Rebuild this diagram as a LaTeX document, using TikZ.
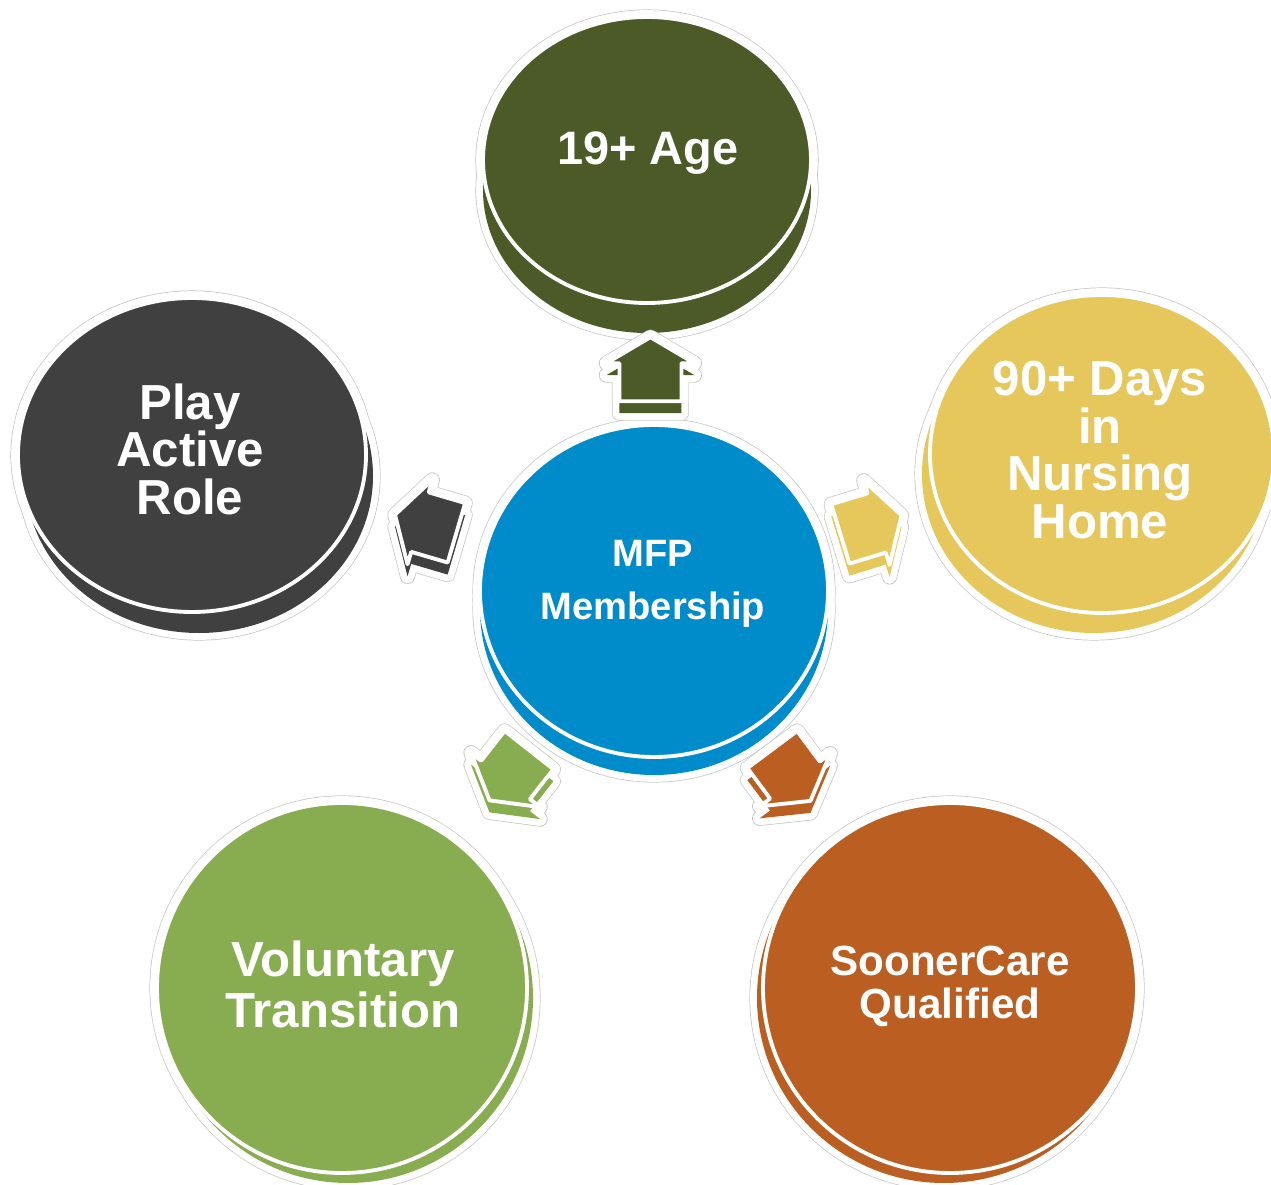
\documentclass[tikz,border=0pt]{standalone}
\usepackage{fontspec}
\setmainfont{Liberation Sans}
\usetikzlibrary{calc}

\definecolor{ageGreen}{RGB}{76,90,40}
\definecolor{roleGray}{RGB}{64,64,64}
\definecolor{mfpBlue}{RGB}{0,139,202}
\definecolor{daysGold}{RGB}{229,199,92}
\definecolor{volGreen}{RGB}{136,173,80}
\definecolor{soonOrange}{RGB}{186,94,33}
\definecolor{haloGray}{RGB}{196,196,196}

% block arrow outline, pointing along +x
\newcommand{\arrowface}{(34,0) -- (8,44) -- (8,31) -- (-30,31) -- (-30,-31) -- (8,-31) -- (8,-44) -- cycle}

% disc with a lower layer: centre, x radius, y radius, shift of lower layer, colour
\newcommand{\tierdisc}[5]{%
  \draw[halo] (#1) ellipse[x radius=#2, y radius=#3];
  \draw[halo] ($(#1)+(#4)$) ellipse[x radius=#2, y radius=#3];
  \draw[haloin] (#1) ellipse[x radius=#2, y radius=#3];
  \draw[haloin] ($(#1)+(#4)$) ellipse[x radius=#2, y radius=#3];
  \fill[#5] ($(#1)+(#4)$) ellipse[x radius=#2, y radius=#3];
  \filldraw[face, fill=#5] (#1) ellipse[x radius=#2, y radius=#3];
}

% block arrow: position, angle, colour
\newcommand{\blockarrow}[3]{%
  \begin{scope}[shift={(#1)}]
    \draw[halo, rotate=#2] \arrowface;
    \draw[halo, shift={(0,12)}, rotate=#2] \arrowface;
    \draw[haloin, rotate=#2] \arrowface;
    \draw[haloin, shift={(0,12)}, rotate=#2] \arrowface;
    \fill[#3, shift={(0,12)}, rotate=#2] \arrowface;
    \filldraw[face, fill=#3, rotate=#2] \arrowface;
  \end{scope}
}

\begin{document}
\begin{tikzpicture}[x=0.02cm, y=-0.02cm,
    halo/.style={draw=haloGray, line width=8.6pt, line join=round},
    haloin/.style={draw=white, fill=white, line width=7.8pt, line join=round},
    face/.style={draw=white, line width=2.2pt, line join=round},
    lbl/.style={text=white, align=center, inner sep=0pt}
  ]
  \useasboundingbox (0,0) rectangle (1271,1185);

  % disc centres
  \coordinate (c-mfp)  at (654,591);
  \coordinate (c-age)  at (647,160);
  \coordinate (c-role) at (192,455);
  \coordinate (c-days) at (1102,454);
  \coordinate (c-vol)  at (342,988);
  \coordinate (c-soon) at (950,988);

  \tierdisc{c-age}{164}{143}{0,30}{ageGreen}
  \tierdisc{c-role}{174}{157}{7,21}{roleGray}
  \tierdisc{c-days}{172}{159}{-8,20}{daysGold}
  \tierdisc{c-vol}{185}{185}{6,10}{volGreen}
  \tierdisc{c-soon}{187}{185}{-6,10}{soonOrange}
  \tierdisc{c-mfp}{174}{166}{0,18}{mfpBlue}

  % arrows from the centre
  \blockarrow{$(c-mfp)!.51!(c-age)$}{90}{ageGreen}
  \blockarrow{$(c-mfp)!.49!(c-role)$}{163.6}{roleGray}
  \blockarrow{$(c-mfp)!.48!(c-days)$}{17}{daysGold}
  \blockarrow{$(c-mfp)!.46!(c-vol)$}{231.8}{volGreen}
  \blockarrow{$(c-mfp)!.46!(c-soon)$}{-53.3}{soonOrange}

  % labels
  \node[lbl, font=\bfseries\fontsize{21.7}{30}\selectfont] (mfp) at (653,584) {MFP\\Membership};
  \node[lbl, font=\bfseries\fontsize{26.7}{27}\selectfont] (age) at (648,153) {19+ Age};
  \node[lbl, font=\bfseries\fontsize{28}{27}\selectfont] (role) at (190,449) {Play\\Active\\Role};
  \node[lbl, font=\bfseries\fontsize{28}{27}\selectfont] (days) at (1100,450) {90+ Days\\in\\Nursing\\Home};
  \node[lbl, font=\bfseries\fontsize{28}{29}\selectfont] (vol) at (343,984) {Voluntary\\Transition};
  \node[lbl, font=\bfseries\fontsize{24}{24.5}\selectfont] (soon) at (950,986) {SoonerCare\\Qualified};
\end{tikzpicture}
\end{document}
